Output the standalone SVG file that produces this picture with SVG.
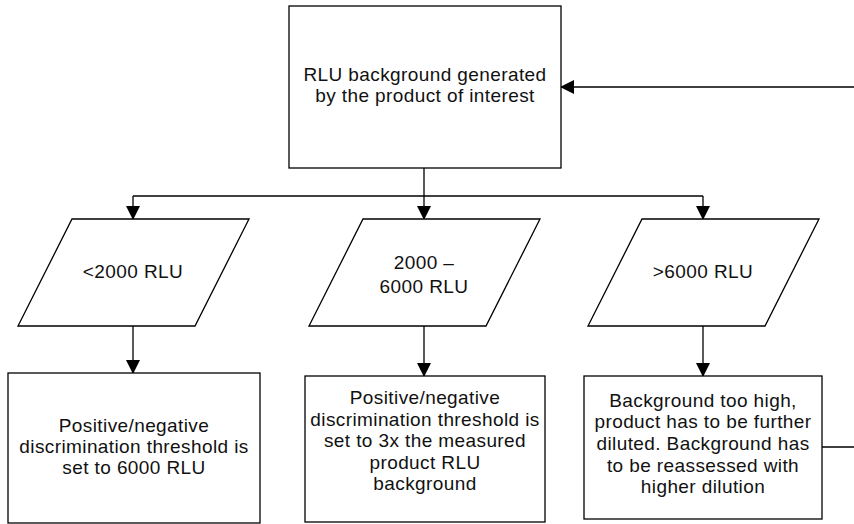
<svg xmlns="http://www.w3.org/2000/svg" width="854" height="524" viewBox="0 0 854 524">
<style>
.box{fill:#fff;stroke:#000;stroke-width:1.3}
.con{fill:none;stroke:#000;stroke-width:1.3}
text{font-family:"Liberation Sans",Arial,Helvetica,sans-serif;font-size:19px;letter-spacing:0.4px;fill:#111;text-anchor:middle}
</style>
<defs>
<marker id="arr" markerUnits="userSpaceOnUse" markerWidth="14" markerHeight="14" viewBox="0 0 14 14" refX="13" refY="7" orient="auto">
<path d="M0,0 L14,7 L0,14 z" fill="#000"/>
</marker>
</defs>
<rect width="854" height="524" fill="#fff"/>
<g id="connectors">
<path class="con" d="M424,168 V196"/>
<path class="con" d="M133,196 H703"/>
<path class="con" d="M133,196 V219" marker-end="url(#arr)"/>
<path class="con" d="M424,196 V219" marker-end="url(#arr)"/>
<path class="con" d="M703,196 V219" marker-end="url(#arr)"/>
<path class="con" d="M133,326 V373" marker-end="url(#arr)"/>
<path class="con" d="M424,326 V376" marker-end="url(#arr)"/>
<path class="con" d="M703,326 V376" marker-end="url(#arr)"/>
<path class="con" d="M822,447 H862 V87 H561" marker-end="url(#arr)"/>
</g>
<g id="start">
<rect class="box" x="289" y="6" width="272" height="162"/>
<text x="425" y="81">RLU background generated</text>
<text x="425" y="102">by the product of interest</text>
</g>
<g id="low">
<polygon class="box" points="72,219 249,219 195,326 18,326"/>
<text x="133" y="278">&lt;2000 RLU</text>
</g>
<g id="mid">
<polygon class="box" points="363,219 540,219 486,326 309,326"/>
<text x="424" y="269">2000 –</text>
<text x="424" y="293">6000 RLU</text>
</g>
<g id="high">
<polygon class="box" points="642,219 819,219 765,326 588,326"/>
<text x="703" y="278">&gt;6000 RLU</text>
</g>
<g id="resultLow">
<rect class="box" x="8" y="373" width="252" height="150"/>
<text x="134" y="432">Positive/negative</text>
<text x="134" y="453">discrimination threshold is</text>
<text x="134" y="474">set to 6000 RLU</text>
</g>
<g id="resultMid">
<rect class="box" x="305" y="376" width="240" height="146"/>
<text x="425" y="404">Positive/negative</text>
<text x="425" y="426">discrimination threshold is</text>
<text x="425" y="447">set to 3x the measured</text>
<text x="425" y="469">product RLU</text>
<text x="425" y="490">background</text>
</g>
<g id="resultHigh">
<rect class="box" x="584" y="376" width="238" height="143"/>
<text x="703" y="407">Background too high,</text>
<text x="703" y="428">product has to be further</text>
<text x="703" y="450">diluted. Background has</text>
<text x="703" y="472">to be reassessed with</text>
<text x="703" y="493">higher dilution</text>
</g>
</svg>
